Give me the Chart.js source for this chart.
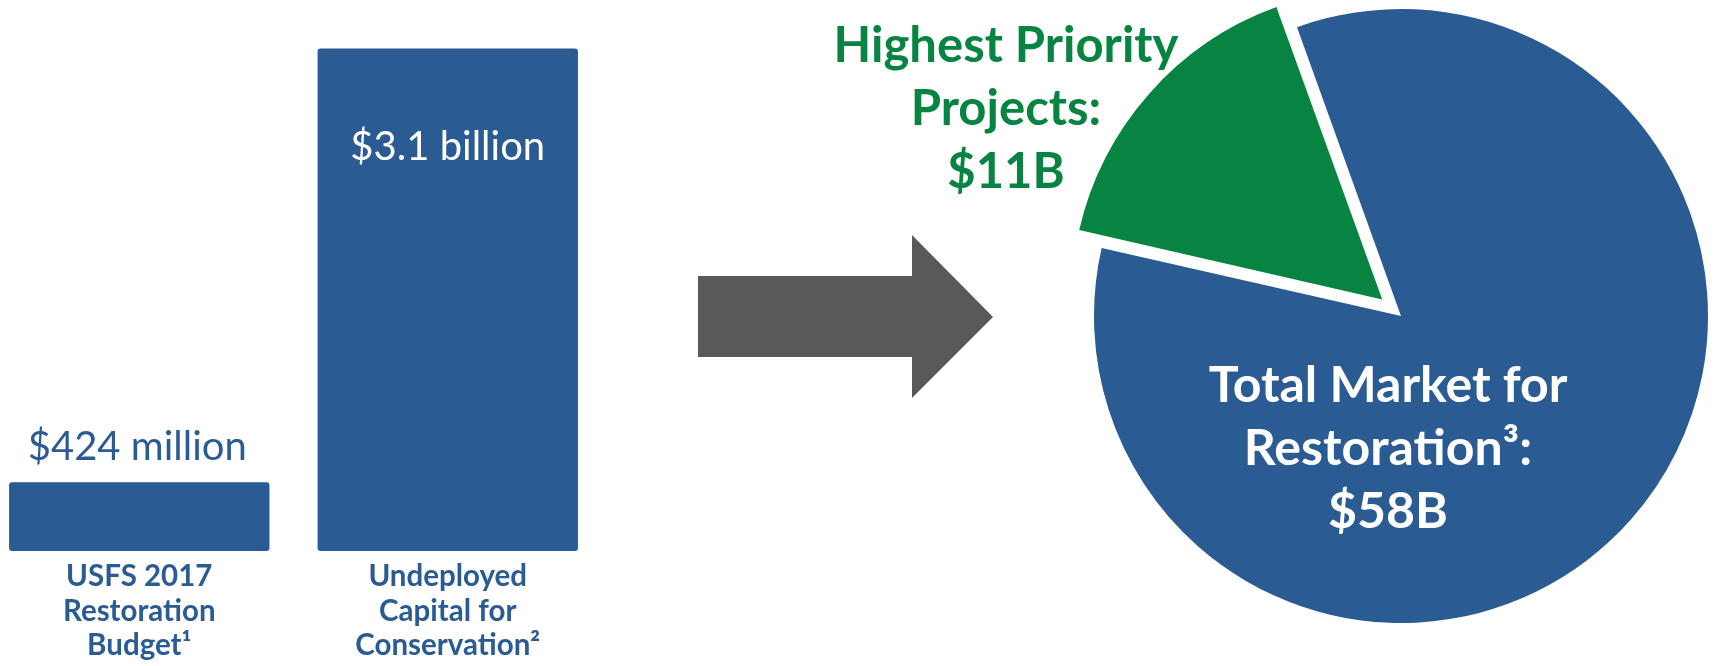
<!DOCTYPE html>
<html>
<head>
<meta charset="utf-8">
<script src="https://cdn.jsdelivr.net/npm/chart.js@4.4.1/dist/chart.umd.min.js"></script>
<style>
  html, body { margin: 0; padding: 0; background: #ffffff; width: 1714px; height: 666px; overflow: hidden; position: relative; }
  #arrow { position: absolute; left: 0; top: 0; }
  #barWrap { position: absolute; left: -15px; top: 0; width: 617px; height: 666px; }
  #pieWrap { position: absolute; left: 700px; top: 0; width: 1100px; height: 666px; }
</style>
</head>
<body>
<svg id="arrow" width="1714" height="666" aria-hidden="true">
  <polygon points="698,276 912,276 912,235 993,317 912,398 912,357 698,357" fill="#58595B"/>
</svg>
<div id="barWrap"><canvas id="bar"></canvas></div>
<div id="pieWrap"><canvas id="pie"></canvas></div>
<script>
// ---- data ----
const barCategories = [
  ["USFS 2017", "Restoration", "Budget\u00B9"],
  ["Undeployed", "Capital for", "Conservation\u00B2"]
];
const barValues = [424, 3100];              // $ millions
const barValueLabels = ["$424 million", "$3.1 billion"];

const pieCategories = [
  ["Total Market for", "Restoration\u00B3:", "$58B"],
  ["Highest Priority", "Projects:", "$11B"]
];
const pieValues = [58, 11];                  // $ billions

// ---- styles ----
const BLUE = "#2A5B93";
const GREEN = "#078441";
const FONT = "Lato, 'Open Sans', sans-serif";

// ---- bar chart ----
const barLabelPlugin = {
  id: "barLabels",
  afterDatasetsDraw(chart) {
    const ctx = chart.ctx;
    const meta = chart.getDatasetMeta(0);
    const area = chart.chartArea;
    ctx.save();
    ctx.textAlign = "center";
    ctx.textBaseline = "alphabetic";
    meta.data.forEach((bar, i) => {
      ctx.font = "400 40px " + FONT;
      if (i === 0) {
        ctx.fillStyle = BLUE;
        ctx.fillText(barValueLabels[i], bar.x - 2, bar.y - 22);
      } else {
        ctx.fillStyle = "#ffffff";
        ctx.fillText(barValueLabels[i], bar.x, bar.y + 111);
      }
      ctx.font = "700 29.5px " + FONT;
      ctx.fillStyle = BLUE;
      barCategories[i].forEach((line, k) => {
        ctx.fillText(line, bar.x, area.bottom + 35 + k * 34.5);
      });
    });
    ctx.restore();
  }
};

new Chart(document.getElementById("bar"), {
  type: "bar",
  data: {
    labels: barCategories.map(c => c.join(" ")),
    datasets: [{
      data: barValues,
      backgroundColor: BLUE,
      borderWidth: 0,
      borderRadius: 3,
      borderSkipped: false,
      categoryPercentage: 1.0,
      barPercentage: 0.844
    }]
  },
  options: {
    responsive: true,
    maintainAspectRatio: false,
    animation: false,
    events: [],
    layout: { padding: { left: 0, right: 0, top: 0, bottom: 115 } },
    plugins: { legend: { display: false }, tooltip: { enabled: false } },
    scales: {
      x: { display: false },
      y: { display: false, min: 0, max: 3400 }
    }
  },
  plugins: [barLabelPlugin]
});

// ---- pie chart ----
const pieLabelPlugin = {
  id: "pieLabels",
  afterDatasetsDraw(chart) {
    const ctx = chart.ctx;
    const arc = chart.getDatasetMeta(0).data[0];
    const cx = arc.x, cy = arc.y;
    ctx.save();
    ctx.textAlign = "center";
    ctx.textBaseline = "alphabetic";
    ctx.font = "700 50px " + FONT;
    ctx.fillStyle = "#ffffff";
    pieCategories[0].forEach((line, k) => {
      ctx.fillText(line, cx - 13, cy + 86 + k * 63);
    });
    ctx.font = "700 49px " + FONT;
    ctx.fillStyle = GREEN;
    pieCategories[1].forEach((line, k) => {
      ctx.fillText(line, cx - 395, cy - 254 + k * 63);
    });
    ctx.restore();
  }
};

new Chart(document.getElementById("pie"), {
  type: "pie",
  data: {
    labels: pieCategories.map(c => c.join(" ")),
    datasets: [{
      data: pieValues,
      backgroundColor: [BLUE, GREEN],
      borderWidth: 0,
      offset: [0, 100],
      clip: false
    }]
  },
  options: {
    responsive: true,
    maintainAspectRatio: false,
    animation: false,
    events: [],
    rotation: -19.8,
    radius: 307,
    layout: { padding: { left: 302, right: 0, top: 0, bottom: 34 } },
    plugins: { legend: { display: false }, tooltip: { enabled: false } }
  },
  plugins: [pieLabelPlugin]
});
</script>
</body>
</html>
